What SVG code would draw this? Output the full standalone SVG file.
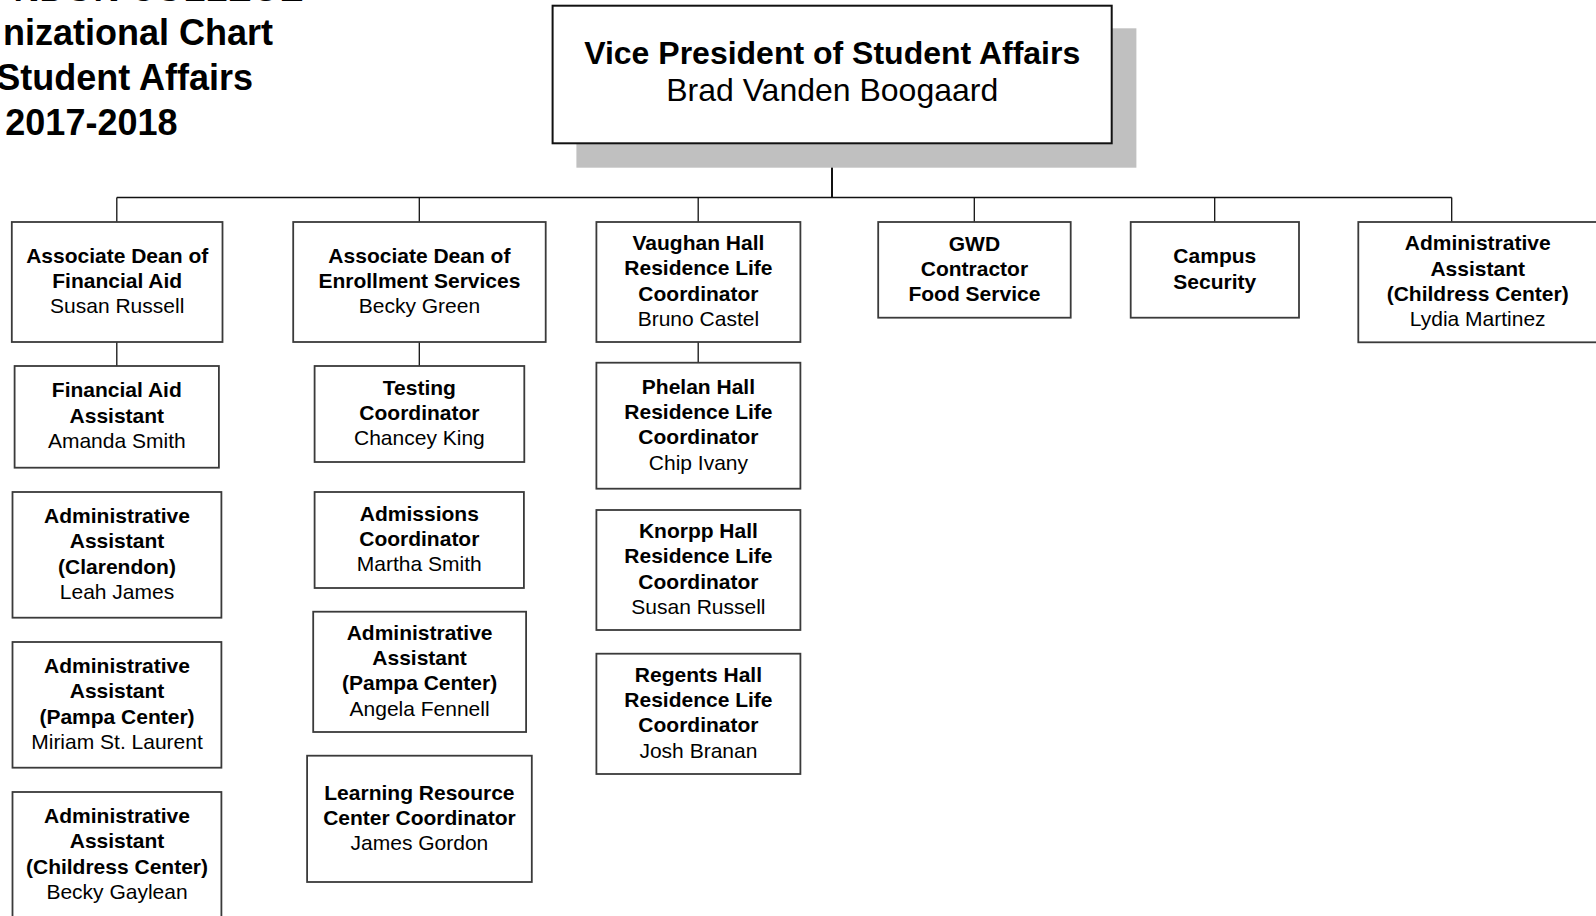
<svg xmlns="http://www.w3.org/2000/svg" width="1596" height="916" viewBox="0 0 1596 916">
<style>
.box{fill:#fff;stroke:#3a3a3a;stroke-width:1.8}
.b{font-family:"Liberation Sans",Arial,sans-serif;font-weight:bold;font-size:21px;fill:#000;text-anchor:middle}
.r{font-family:"Liberation Sans",Arial,sans-serif;font-size:21px;fill:#000;text-anchor:middle}
.t{font-family:"Liberation Sans",Arial,sans-serif;font-weight:bold;font-size:36px;fill:#000;text-anchor:end}
.c{stroke:#111;stroke-width:1.3;fill:none}
</style>
<rect width="1596" height="916" fill="#fff"/>
<g id="title">
<text class="t" x="303.5" y="0.5">NDON COLLEGE</text>
<text class="t" x="273" y="45">nizational Chart</text>
<text class="t" x="253" y="90">Student Affairs</text>
<text class="t" x="177.5" y="135">2017-2018</text>
</g>
<g id="connectors">
<line class="c" x1="832" y1="143" x2="832" y2="197.5" style="stroke-width:2"/>
<line class="c" x1="116.8" y1="197.5" x2="1451.7" y2="197.5" style="stroke-width:1.6"/>
<line class="c" x1="116.8" y1="197.5" x2="116.8" y2="222"/>
<line class="c" x1="419.3" y1="197.5" x2="419.3" y2="222"/>
<line class="c" x1="698.2" y1="197.5" x2="698.2" y2="222"/>
<line class="c" x1="974.3" y1="197.5" x2="974.3" y2="222"/>
<line class="c" x1="1214.7" y1="197.5" x2="1214.7" y2="222"/>
<line class="c" x1="1451.7" y1="197.5" x2="1451.7" y2="222"/>
<line class="c" x1="116.8" y1="342" x2="116.8" y2="366"/>
<line class="c" x1="419.3" y1="342" x2="419.3" y2="366"/>
<line class="c" x1="698.2" y1="342" x2="698.2" y2="362.7"/>
</g>
<g id="vp">
<rect x="576.4" y="28.3" width="560" height="139.4" fill="#c0c0c0"/>
<rect x="552.6" y="5.7" width="559.1" height="137.6" fill="#fff" stroke="#111" stroke-width="2"/>
<text x="832.2" y="63.5" font-family="Liberation Sans, Arial, sans-serif" font-weight="bold" font-size="32" text-anchor="middle">Vice President of Student Affairs</text>
<text x="832.2" y="100.5" font-family="Liberation Sans, Arial, sans-serif" font-size="32" text-anchor="middle">Brad Vanden Boogaard</text>
</g>
<g id="dean-finaid">
<rect class="box" x="11.8" y="222" width="210.7" height="120"/>
<text class="b" x="117.2" y="262.7">Associate Dean of</text>
<text class="b" x="117.2" y="288">Financial Aid</text>
<text class="r" x="117.2" y="313.3">Susan Russell</text>
</g>
<g id="finaid-asst">
<rect class="box" x="14.6" y="366" width="204.3" height="101.7"/>
<text class="b" x="116.8" y="397.2">Financial Aid</text>
<text class="b" x="116.8" y="422.5">Assistant</text>
<text class="r" x="116.8" y="447.8">Amanda Smith</text>
</g>
<g id="admin-clarendon">
<rect class="box" x="12.5" y="492" width="208.9" height="125.7"/>
<text class="b" x="117" y="522.9">Administrative</text>
<text class="b" x="117" y="548.2">Assistant</text>
<text class="b" x="117" y="573.5">(Clarendon)</text>
<text class="r" x="117" y="598.8">Leah James</text>
</g>
<g id="admin-pampa-1">
<rect class="box" x="12.5" y="642" width="208.9" height="125.7"/>
<text class="b" x="117" y="672.9">Administrative</text>
<text class="b" x="117" y="698.2">Assistant</text>
<text class="b" x="117" y="723.5">(Pampa Center)</text>
<text class="r" x="117" y="748.8">Miriam St. Laurent</text>
</g>
<g id="admin-childress-1">
<rect class="box" x="12.5" y="792" width="208.9" height="125.7"/>
<text class="b" x="117" y="822.9">Administrative</text>
<text class="b" x="117" y="848.2">Assistant</text>
<text class="b" x="117" y="873.5">(Childress Center)</text>
<text class="r" x="117" y="898.8">Becky Gaylean</text>
</g>
<g id="dean-enroll">
<rect class="box" x="293.2" y="222" width="252.5" height="120"/>
<text class="b" x="419.4" y="262.7">Associate Dean of</text>
<text class="b" x="419.4" y="288">Enrollment Services</text>
<text class="r" x="419.4" y="313.3">Becky Green</text>
</g>
<g id="testing">
<rect class="box" x="314.6" y="366" width="209.7" height="96"/>
<text class="b" x="419.4" y="394.7">Testing</text>
<text class="b" x="419.4" y="420">Coordinator</text>
<text class="r" x="419.4" y="445.3">Chancey King</text>
</g>
<g id="admissions">
<rect class="box" x="314.6" y="492" width="209.3" height="96"/>
<text class="b" x="419.3" y="520.7">Admissions</text>
<text class="b" x="419.3" y="546">Coordinator</text>
<text class="r" x="419.3" y="571.3">Martha Smith</text>
</g>
<g id="admin-pampa-2">
<rect class="box" x="313.2" y="611.7" width="212.9" height="120.3"/>
<text class="b" x="419.6" y="639.8">Administrative</text>
<text class="b" x="419.6" y="665.1">Assistant</text>
<text class="b" x="419.6" y="690.4">(Pampa Center)</text>
<text class="r" x="419.6" y="715.7">Angela Fennell</text>
</g>
<g id="learning">
<rect class="box" x="307.1" y="755.7" width="224.7" height="126.3"/>
<text class="b" x="419.4" y="799.5">Learning Resource</text>
<text class="b" x="419.4" y="824.8">Center Coordinator</text>
<text class="r" x="419.4" y="850.1">James Gordon</text>
</g>
<g id="vaughan">
<rect class="box" x="596.4" y="222" width="204" height="120"/>
<text class="b" x="698.4" y="250">Vaughan Hall</text>
<text class="b" x="698.4" y="275.3">Residence Life</text>
<text class="b" x="698.4" y="300.6">Coordinator</text>
<text class="r" x="698.4" y="325.9">Bruno Castel</text>
</g>
<g id="phelan">
<rect class="box" x="596.4" y="362.7" width="204" height="126"/>
<text class="b" x="698.4" y="393.7">Phelan Hall</text>
<text class="b" x="698.4" y="419">Residence Life</text>
<text class="b" x="698.4" y="444.3">Coordinator</text>
<text class="r" x="698.4" y="469.6">Chip Ivany</text>
</g>
<g id="knorpp">
<rect class="box" x="596.4" y="510" width="204" height="120"/>
<text class="b" x="698.4" y="538">Knorpp Hall</text>
<text class="b" x="698.4" y="563.3">Residence Life</text>
<text class="b" x="698.4" y="588.6">Coordinator</text>
<text class="r" x="698.4" y="613.9">Susan Russell</text>
</g>
<g id="regents">
<rect class="box" x="596.4" y="653.7" width="204" height="120.3"/>
<text class="b" x="698.4" y="681.8">Regents Hall</text>
<text class="b" x="698.4" y="707.1">Residence Life</text>
<text class="b" x="698.4" y="732.4">Coordinator</text>
<text class="r" x="698.4" y="757.7">Josh Branan</text>
</g>
<g id="gwd">
<rect class="box" x="878.2" y="222" width="192.5" height="95.7"/>
<text class="b" x="974.4" y="250.5">GWD</text>
<text class="b" x="974.4" y="275.8">Contractor</text>
<text class="b" x="974.4" y="301.1">Food Service</text>
</g>
<g id="security">
<rect class="box" x="1130.7" y="222" width="168.3" height="95.7"/>
<text class="b" x="1214.8" y="263.2">Campus</text>
<text class="b" x="1214.8" y="288.5">Security</text>
</g>
<g id="admin-childress-2">
<rect class="box" x="1358.3" y="222" width="240" height="120.3"/>
<text class="b" x="1477.7" y="250.2">Administrative</text>
<text class="b" x="1477.7" y="275.5">Assistant</text>
<text class="b" x="1477.7" y="300.8">(Childress Center)</text>
<text class="r" x="1477.7" y="326.1">Lydia Martinez</text>
</g>
</svg>
